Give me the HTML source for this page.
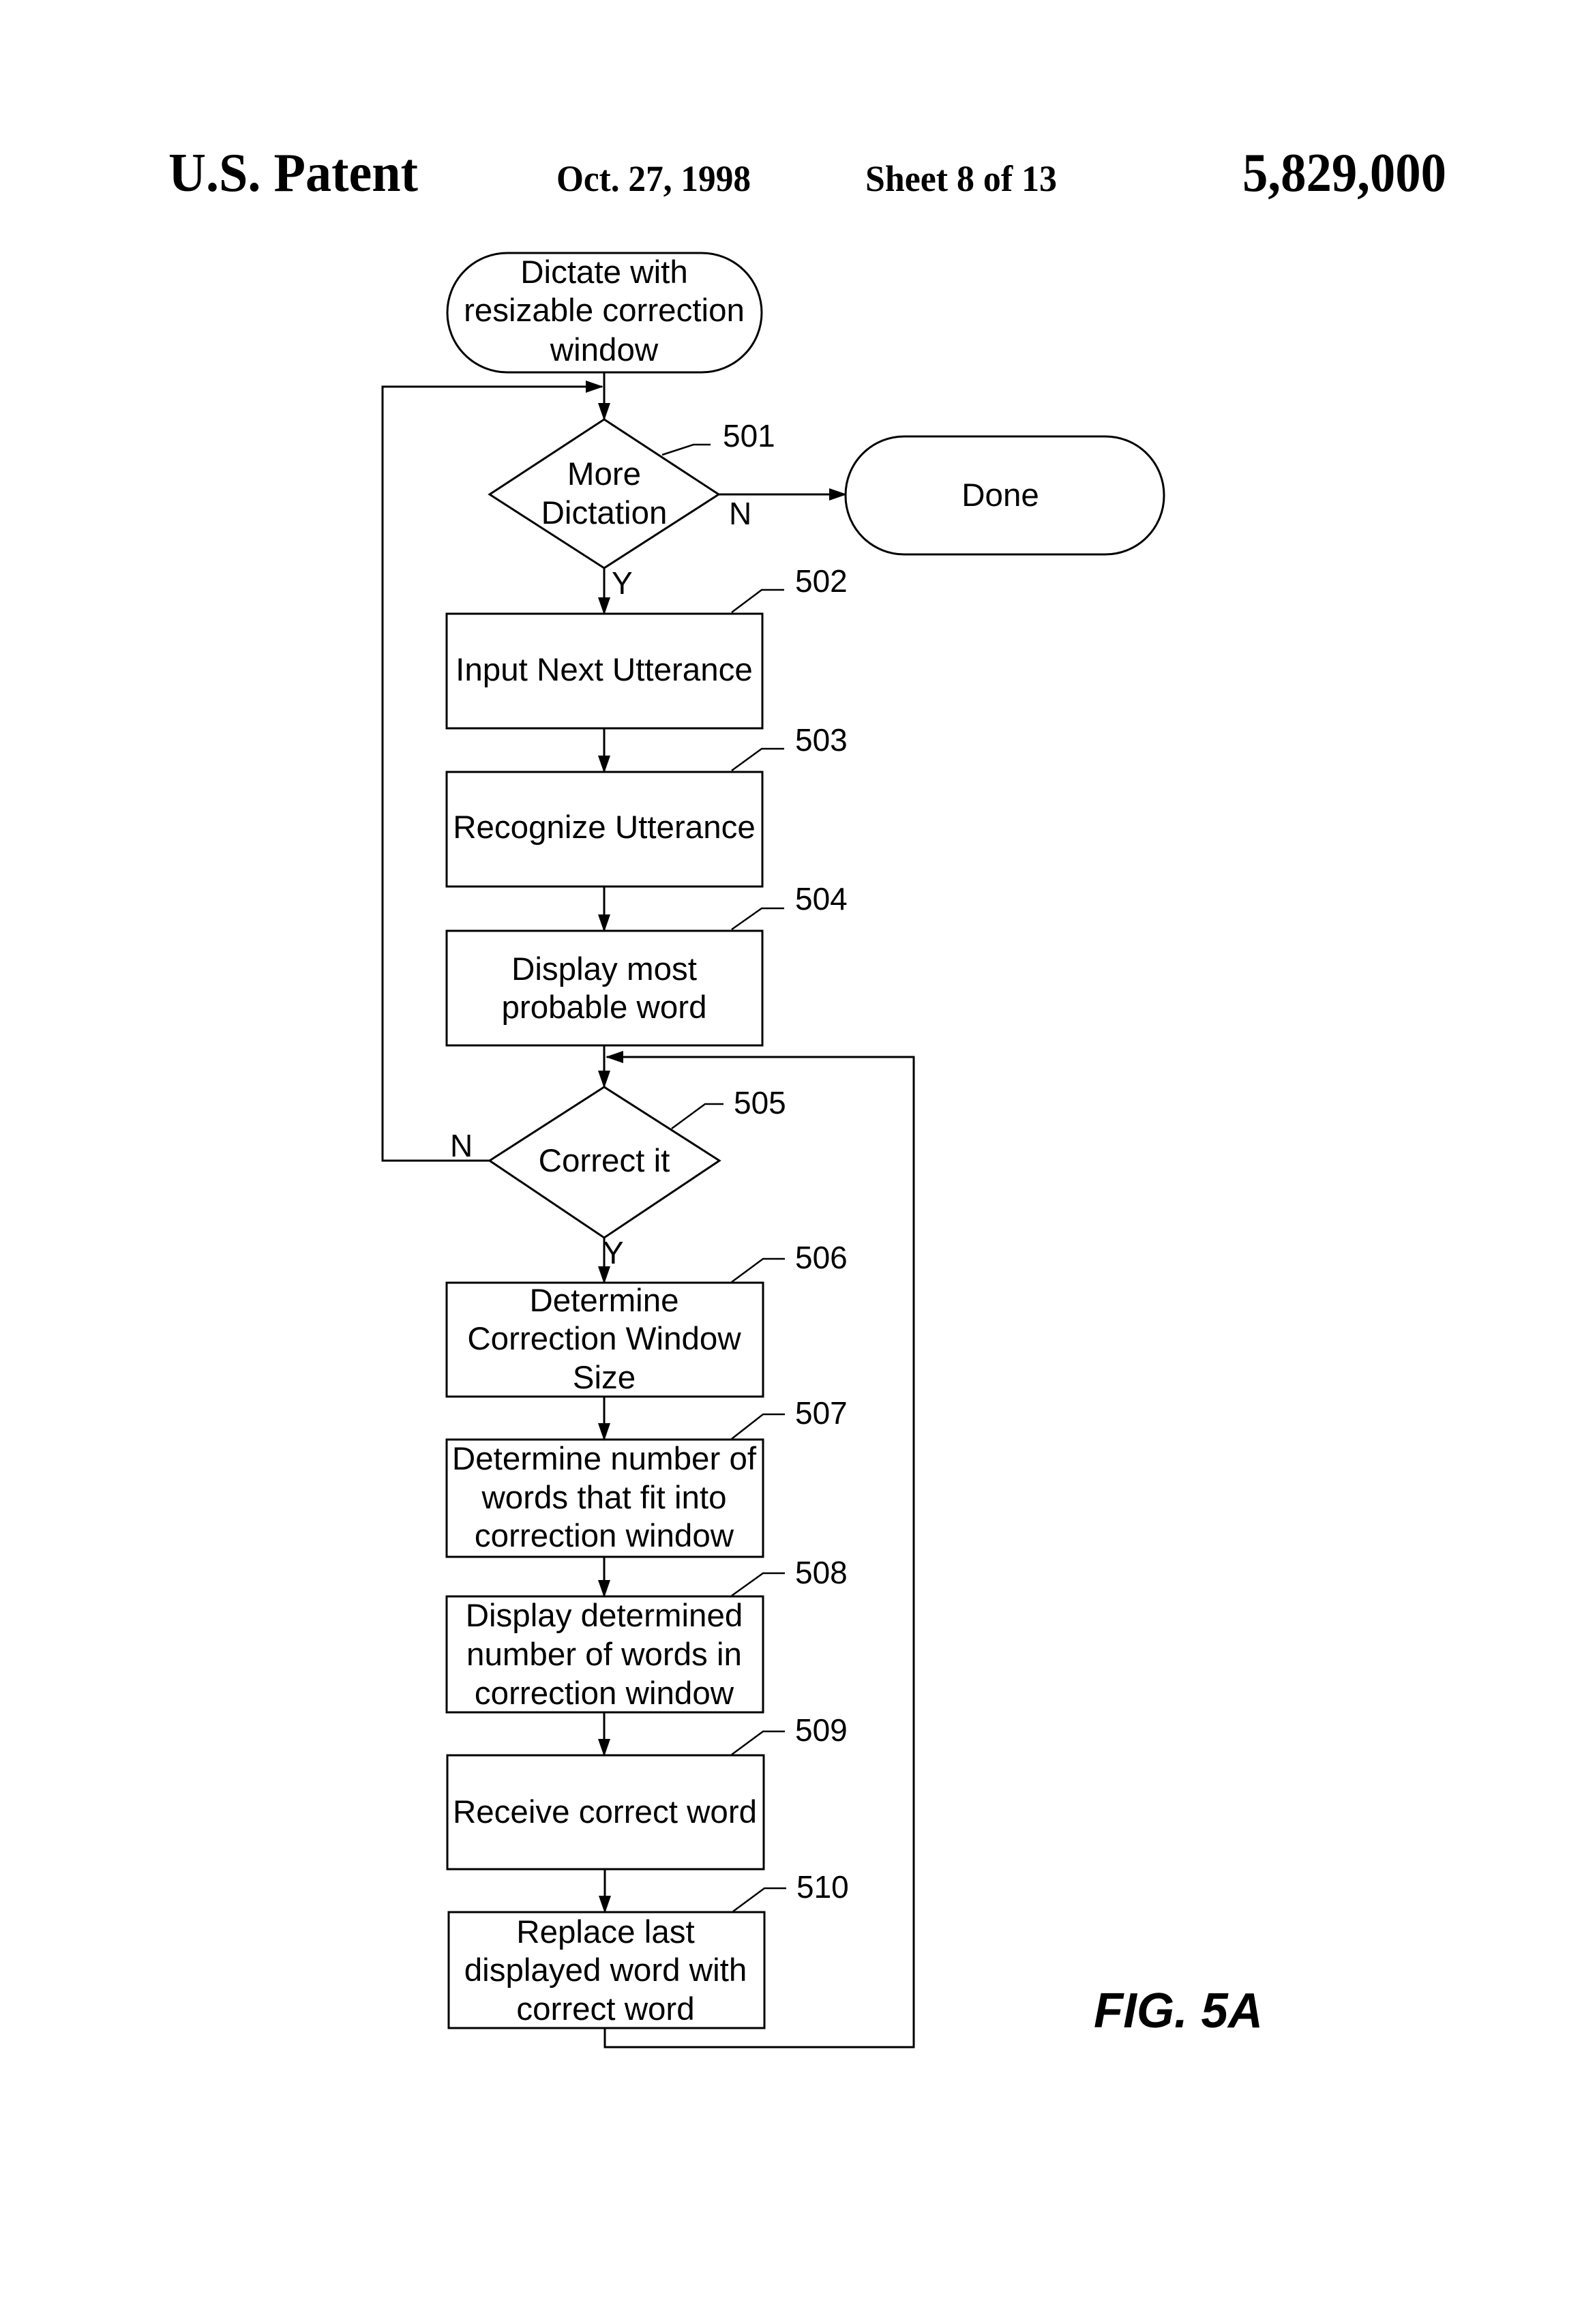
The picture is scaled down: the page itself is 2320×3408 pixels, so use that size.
<!DOCTYPE html>
<html><head><meta charset="utf-8"><style>html,body{margin:0;padding:0;background:#fff}svg{display:block}</style></head>
<body>
<svg width="2320" height="3408" viewBox="0 0 2320 3408" xmlns="http://www.w3.org/2000/svg">
<defs>
<marker id="ah" markerWidth="26" markerHeight="26" refX="24" refY="13" orient="auto" markerUnits="userSpaceOnUse"><path d="M0,4 L26,13 L0,22 z" fill="#000"/></marker></defs>
<g font-family="Liberation Serif, serif" font-weight="bold" fill="#000">
<text x="247" y="280" font-size="80" textLength="366" lengthAdjust="spacingAndGlyphs">U.S. Patent</text>
<text x="816" y="280" font-size="54" textLength="285" lengthAdjust="spacingAndGlyphs">Oct. 27, 1998</text>
<text x="1269" y="280" font-size="54" textLength="281" lengthAdjust="spacingAndGlyphs">Sheet 8 of 13</text>
<text x="1822" y="280" font-size="80" textLength="299" lengthAdjust="spacingAndGlyphs">5,829,000</text>
</g>
<g fill="none" stroke="#000" stroke-width="3">
<rect x="656" y="371" width="461" height="175" rx="88"/>
<rect x="1240" y="640" width="467" height="173" rx="86"/>
<polygon points="718,725 886,615 1054,725 886,833"/>
<polygon points="718,1702 886,1594 1055,1702 886,1815"/>
<rect x="655" y="900" width="463" height="168"/>
<rect x="655" y="1132" width="463" height="168"/>
<rect x="655" y="1365" width="463" height="168"/>
<rect x="655" y="1881" width="464" height="167"/>
<rect x="655" y="2111" width="464" height="172"/>
<rect x="655" y="2341" width="464" height="170"/>
<rect x="656" y="2574" width="464" height="167"/>
<rect x="658" y="2804" width="463" height="170"/>
</g>
<g fill="none" stroke="#000" stroke-width="3" marker-end="url(#ah)">
<line x1="886" y1="546" x2="886" y2="615"/>
<line x1="1054" y1="725" x2="1240" y2="725"/>
<line x1="886" y1="833" x2="886" y2="900"/>
<line x1="886" y1="1068" x2="886" y2="1132"/>
<line x1="886" y1="1300" x2="886" y2="1365"/>
<line x1="886" y1="1533" x2="886" y2="1594"/>
<line x1="886" y1="1815" x2="886" y2="1881"/>
<line x1="886" y1="2048" x2="886" y2="2111"/>
<line x1="886" y1="2283" x2="886" y2="2341"/>
<line x1="886" y1="2511" x2="886" y2="2574"/>
<line x1="887" y1="2741" x2="887" y2="2804"/>
<polyline points="718,1702 561,1702 561,567 883,567"/>
<polyline points="887,2974 887,3002 1340,3002 1340,1550 890,1550"/>
</g>
<g fill="none" stroke="#000" stroke-width="2.5">
<polyline points="971,667 1017,652 1042,652"/>
<polyline points="1073,898 1117,865 1150,865"/>
<polyline points="1073,1130 1117,1098 1150,1098"/>
<polyline points="1073,1363 1117,1332 1150,1332"/>
<polyline points="985,1655 1034,1619 1061,1619"/>
<polyline points="1073,1880 1119,1846 1151,1846"/>
<polyline points="1073,2110 1119,2074 1151,2074"/>
<polyline points="1073,2340 1119,2307 1151,2307"/>
<polyline points="1073,2573 1119,2539 1151,2539"/>
<polyline points="1075,2803 1121,2769 1153,2769"/>
</g>
<g font-family="Liberation Sans, sans-serif" font-size="47.5" fill="#000" text-anchor="middle">
<text x="886" y="415">Dictate with</text>
<text x="886" y="471">resizable correction</text>
<text x="886" y="529">window</text>
<text x="886" y="711">More</text>
<text x="886" y="768">Dictation</text>
<text x="1467" y="742">Done</text>
<text x="886" y="998">Input Next Utterance</text>
<text x="886" y="1229">Recognize Utterance</text>
<text x="886" y="1437">Display most</text>
<text x="886" y="1493">probable word</text>
<text x="886" y="1718">Correct it</text>
<text x="886" y="1923">Determine</text>
<text x="886" y="1979">Correction Window</text>
<text x="886" y="2036">Size</text>
<text x="886" y="2155">Determine number of</text>
<text x="886" y="2212">words that fit into</text>
<text x="886" y="2268">correction window</text>
<text x="886" y="2385">Display determined</text>
<text x="886" y="2442">number of words in</text>
<text x="886" y="2499">correction window</text>
<text x="887" y="2673">Receive correct word</text>
<text x="888" y="2849">Replace last</text>
<text x="888" y="2905">displayed word with</text>
<text x="888" y="2962">correct word</text>
</g>
<g font-family="Liberation Sans, sans-serif" font-size="46" fill="#000">
<text x="1060" y="655">501</text>
<text x="1166" y="868">502</text>
<text x="1166" y="1101">503</text>
<text x="1166" y="1334">504</text>
<text x="1076" y="1633">505</text>
<text x="1166" y="1860">506</text>
<text x="1166" y="2088">507</text>
<text x="1166" y="2322">508</text>
<text x="1166" y="2553">509</text>
<text x="1168" y="2783">510</text>
<text x="1069" y="769">N</text>
<text x="897" y="871">Y</text>
<text x="660" y="1696">N</text>
<text x="884" y="1853">Y</text>
<text x="1604" y="2973" font-size="72" font-weight="bold" font-style="italic" textLength="248" lengthAdjust="spacingAndGlyphs">FIG. 5A</text>
</g>
</svg>
</body></html>
